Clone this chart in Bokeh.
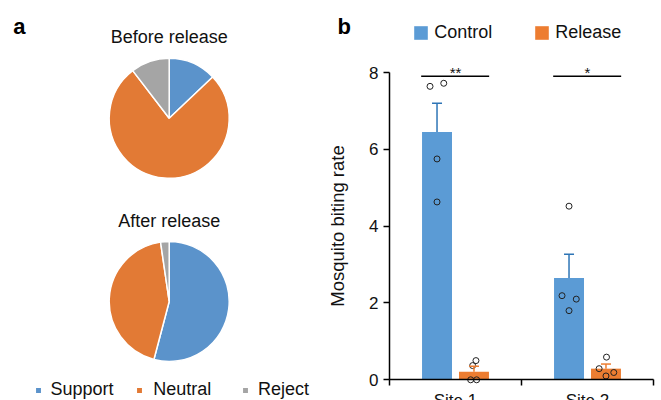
import numpy as np
from bokeh.plotting import figure
from bokeh.models import (ColumnDataSource, Range1d, FixedTicker, Whisker, TeeHead,
                          Legend, LegendItem, Label, LinearAxis)
from bokeh.layouts import row
from bokeh.embed import file_html
from bokeh.resources import INLINE
from bokeh.core.properties import value

FONT = "Liberation Sans"
TXT = "#111111"

# ---------------- data: panel a ----------------
pie_categories = ["Support", "Neutral", "Reject"]
before_release = [12.9, 76.7, 10.4]
after_release = [54.1, 43.6, 2.3]
pie_titles = ["Before release", "After release"]
pie_colors = ["#5B93CB", "#E27A35", "#A5A5A5"]

# ---------------- data: panel b ----------------
sites = ["Site 1", "Site 2"]
groups = ["Control", "Release"]
control_mean = [6.45, 2.65]
control_sem = [0.75, 0.62]
release_mean = [0.21, 0.29]
release_sem = [0.14, 0.12]
control_points = [[7.64, 7.72, 5.75, 4.63], [4.52, 2.19, 2.10, 1.80]]
control_jitter = [[-0.053, 0.051, 0.0, 0.0], [0.0, -0.053, 0.055, 0.0]]
release_points = [[0.50, 0.37, 0.0, 0.0], [0.59, 0.29, 0.19, 0.10]]
release_jitter = [[0.015, -0.010, -0.025, 0.020], [0.004, -0.052, 0.059, 0.0]]
significance = ["**", "*"]
sig_level = [7.9, 7.9]
y_ticks = [0, 2, 4, 6, 8]
bar_colors = ["#5B9BD5", "#ED7D31"]
err_colors = ["#2E75B6", "#ED7D31"]

# ================= panel a : pies =================
WA, H = 330, 400
fa = figure(width=WA, height=H, x_range=Range1d(0, WA), y_range=Range1d(0, H),
            x_axis_type=None, y_axis_type=None, toolbar_location=None,
            output_backend="svg", min_border=0)
fa.outline_line_color = None
fa.background_fill_color = "white"

pie_centers = [(168.7, 282.2), (168.7, 99.0)]
pie_radius = 60


def pie_source(shares):
    frac = np.asarray(shares, dtype=float) / np.sum(shares)
    cum = np.concatenate([[0.0], np.cumsum(frac)])
    start = np.pi / 2 - 2 * np.pi * cum[1:]
    end = np.pi / 2 - 2 * np.pi * cum[:-1]
    return ColumnDataSource(dict(cat=pie_categories, start=start, end=end, color=pie_colors))


pie_renderers = []
for shares, title, (cx, cy) in zip([before_release, after_release], pie_titles, pie_centers):
    r = fa.wedge(x=cx, y=cy, radius=pie_radius, start_angle="start", end_angle="end",
                 fill_color="color", line_color="white", line_width=1.5,
                 source=pie_source(shares))
    pie_renderers.append(r)
    fa.text(x=[cx], y=[cy + 81], text=[title], text_align="center", text_baseline="alphabetic",
            text_font=value(FONT), text_font_size="18px", text_color=TXT)

fa.add_layout(Label(x=12.7, y=374, x_units="screen", y_units="screen", text="a",
                    text_font=FONT, text_font_style="bold", text_font_size="22px",
                    text_color="black", text_baseline="alphabetic"))

legend_x = [33.5, 135.2, 240.9]
legend_standoff = [9, 10, 9]
for i, (cat, lx, so) in enumerate(zip(pie_categories, legend_x, legend_standoff)):
    lg = Legend(items=[LegendItem(label=cat, renderers=[pie_renderers[0]], index=i)],
                location=(lx, 0), orientation="horizontal", glyph_width=8, glyph_height=8,
                label_standoff=so, padding=0, margin=0, spacing=0,
                border_line_color=None, background_fill_alpha=0,
                label_text_baseline="alphabetic",
                label_text_font=FONT, label_text_font_size="18px", label_text_color=TXT)
    fa.add_layout(lg)

# ================= panel b : bars =================
WB = 331
kx = 132.0          # px per x unit
ky = 38.41          # px per y unit
left_px, right_px = 59, 8
y0_px = 379.3       # pixel row of y = 0
fb = figure(width=WB, height=H,
            x_range=Range1d(-left_px / kx, 2 + right_px / kx),
            y_range=Range1d(-(H - y0_px) / ky, y0_px / ky),
            x_axis_type=None, y_axis_type=None, toolbar_location=None,
            output_backend="svg", min_border=0)
fb.outline_line_color = None
fb.background_fill_color = "white"

site_pos = np.arange(len(sites)) + 0.5
offset = 0.14
bar_w = 0.227

ctrl_src = ColumnDataSource(dict(x=site_pos - offset, top=control_mean,
                                 upper=np.add(control_mean, control_sem)))
rel_src = ColumnDataSource(dict(x=site_pos + offset, top=release_mean,
                                upper=np.add(release_mean, release_sem)))

r_ctrl = fb.vbar(x="x", top="top", bottom=0, width=bar_w, fill_color=bar_colors[0],
                 line_color=None, source=ctrl_src)
r_rel = fb.vbar(x="x", top="top", bottom=0, width=bar_w, fill_color=bar_colors[1],
                line_color=None, source=rel_src)

for src, col in [(ctrl_src, err_colors[0]), (rel_src, err_colors[1])]:
    fb.add_layout(Whisker(source=src, base="x", lower="top", upper="upper",
                          line_color=col, line_width=1.5, level="glyph",
                          upper_head=TeeHead(size=10, line_color=col, line_width=1.5),
                          lower_head=None))

px, py = [], []
for i in range(len(sites)):
    px += list(site_pos[i] - offset + np.array(control_jitter[i]))
    py += control_points[i]
    px += list(site_pos[i] + offset + np.array(release_jitter[i]))
    py += release_points[i]
fb.scatter(x=px, y=py, marker="circle", size=6, fill_color=None, line_color="#222222",
           line_width=1)

fb.segment(x0=site_pos - 0.26, x1=site_pos + 0.255, y0=sig_level, y1=sig_level,
           line_color="black", line_width=1.5)
fb.text(x=site_pos, y=sig_level, text=significance, text_align="center",
        text_baseline="alphabetic", y_offset=-4, text_font=value(FONT),
        text_font_size="15px", text_color=TXT)

yaxis = LinearAxis(fixed_location=0, ticker=FixedTicker(ticks=y_ticks), bounds=(0, 8),
                   axis_label="Mosquito biting rate", axis_label_standoff=18,
                   axis_label_text_font=FONT, axis_label_text_font_size="18.5px",
                   axis_label_text_font_style="normal", axis_label_text_color=TXT,
                   major_label_text_font=FONT, major_label_text_font_size="17px",
                   major_label_text_color=TXT, major_tick_out=6, major_tick_in=0,
                   minor_tick_out=0, minor_tick_in=0, axis_line_width=1.5,
                   major_tick_line_width=1.5, axis_line_color="black",
                   major_tick_line_color="black")
fb.add_layout(yaxis, "left")

xaxis = LinearAxis(fixed_location=0, bounds=(0, 2),
                   ticker=FixedTicker(ticks=list(site_pos), minor_ticks=[0, 1, 2]),
                   major_label_overrides={float(p): s for p, s in zip(site_pos, sites)},
                   major_label_text_font=FONT, major_label_text_font_size="17px",
                   major_label_text_color=TXT, major_label_standoff=5,
                   major_tick_out=0, major_tick_in=0, minor_tick_out=6, minor_tick_in=0,
                   minor_tick_line_color="black", minor_tick_line_width=1.5,
                   axis_line_width=1.5, axis_line_color="black")
fb.add_layout(xaxis, "below")

fb.add_layout(Label(x=7, y=374.3, x_units="screen", y_units="screen", text="b",
                    text_font=FONT, text_font_style="bold", text_font_size="22px",
                    text_color="black", text_baseline="alphabetic"))

for grp, rr, lx in zip(groups, [r_ctrl, r_rel], [82.3, 203.3]):
    lg = Legend(items=[LegendItem(label=grp, renderers=[rr], index=0)], location=(lx, 356.7),
                orientation="horizontal", glyph_width=17, glyph_height=17,
                label_standoff=5, padding=0, margin=0, spacing=0,
                border_line_color=None, background_fill_alpha=0,
                label_text_font=FONT, label_text_font_size="18px", label_text_color=TXT)
    fb.add_layout(lg)

layout = row(fa, fb)
open("out.html", "w").write(file_html(layout, INLINE))
